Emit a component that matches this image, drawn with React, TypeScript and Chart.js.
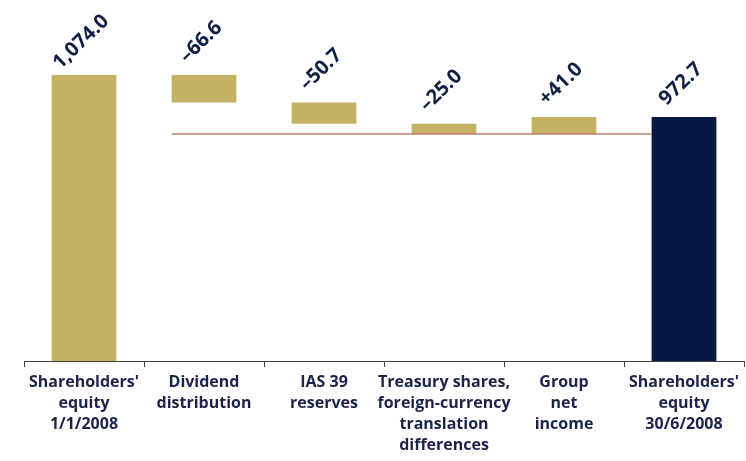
import React, { useEffect, useRef } from "react";
import { Chart, registerables } from "chart.js";

Chart.register(...registerables);

const categories: string[][] = [
  ["Shareholders'", "equity", "1/1/2008"],
  ["Dividend", "distribution"],
  ["IAS 39", "reserves"],
  ["Treasury shares,", "foreign-currency", "translation", "differences"],
  ["Group", "net", "income"],
  ["Shareholders'", "equity", "30/6/2008"],
];
const startValue = 1074.0;
const changes = [-66.6, -50.7, -25.0, 41.0];
const endValue = 972.7;
const valueLabels = ["1,074.0", "\u201366.6", "\u201350.7", "\u201325.0", "+41.0", "972.7"];

const GOLD = "#c4b264";
const NAVY = "#07173f";
const TEXT = "#1b2348";

function buildRanges(): [number, number][] {
  const r: [number, number][] = [[0, startValue]];
  let level = startValue;
  for (const c of changes) {
    const next = level + c;
    r.push([Math.min(level, next), Math.max(level, next)]);
    level = next;
  }
  r.push([0, endValue]);
  return r;
}

export default function App() {
  const ref = useRef<HTMLCanvasElement | null>(null);
  useEffect(() => {
    if (!ref.current) return;
    const ranges = buildRanges();
    const connectorLevel = startValue + changes.slice(0, 3).reduce((a, b) => a + b, 0);

    const overlay = {
      id: "overlay",
      afterDatasetsDraw(chart: any) {
        const ctx = chart.ctx;
        const meta = chart.getDatasetMeta(0);
        const ys = chart.scales.y;
        const b1 = meta.data[1];
        const b5 = meta.data[5];
        const y = ys.getPixelForValue(connectorLevel);
        ctx.save();
        ctx.strokeStyle = "#c0806f";
        ctx.lineWidth = 1.3;
        ctx.beginPath();
        ctx.moveTo(b1.x - b1.width / 2, y);
        ctx.lineTo(b5.x - b5.width / 2, y);
        ctx.stroke();
        ctx.fillStyle = "#0f1f45";
        ctx.font = "bold 20px 'Open Sans'";
        ctx.textAlign = "center";
        ctx.textBaseline = "middle";
        meta.data.forEach((bar: any, i: number) => {
          const top = Math.min(bar.y, bar.base);
          ctx.save();
          ctx.translate(bar.x - 3, top - 33);
          ctx.rotate((-44 * Math.PI) / 180);
          ctx.fillText(valueLabels[i], 0, 0);
          ctx.restore();
        });
        ctx.restore();
      },
    };

    const chart = new Chart(ref.current, {
      type: "bar",
      data: {
        labels: categories,
        datasets: [
          {
            data: ranges as any,
            backgroundColor: [GOLD, GOLD, GOLD, GOLD, GOLD, NAVY],
            borderWidth: 0,
            borderSkipped: false,
            categoryPercentage: 1,
            barPercentage: 0.54,
          },
        ],
      },
      options: {
        animation: false,
        responsive: true,
        maintainAspectRatio: false,
        layout: { padding: { left: 24, right: 2, top: 0, bottom: 0 } },
        plugins: { legend: { display: false }, tooltip: { enabled: false } },
        scales: {
          x: {
            afterFit: (s: any) => {
              s.height = 100;
            },
            border: { display: true, color: "#444", width: 1 },
            grid: {
              display: true,
              drawOnChartArea: false,
              drawTicks: true,
              tickLength: 6,
              color: "#444",
              offset: true,
            },
            ticks: {
              color: TEXT,
              font: { family: "'Open Sans'", size: 16, weight: "bold", lineHeight: 1.32 },
              maxRotation: 0,
              autoSkip: false,
              padding: 5,
            },
          },
          y: {
            display: false,
            min: 384,
            max: 1255,
          },
        },
      },
      plugins: [overlay],
    });
    return () => chart.destroy();
  }, []);
  return (
    <div style={{ position: "fixed", left: 0, top: 0, width: 746, height: 461, background: "#fff" }}>
      <canvas ref={ref} />
    </div>
  );
}
